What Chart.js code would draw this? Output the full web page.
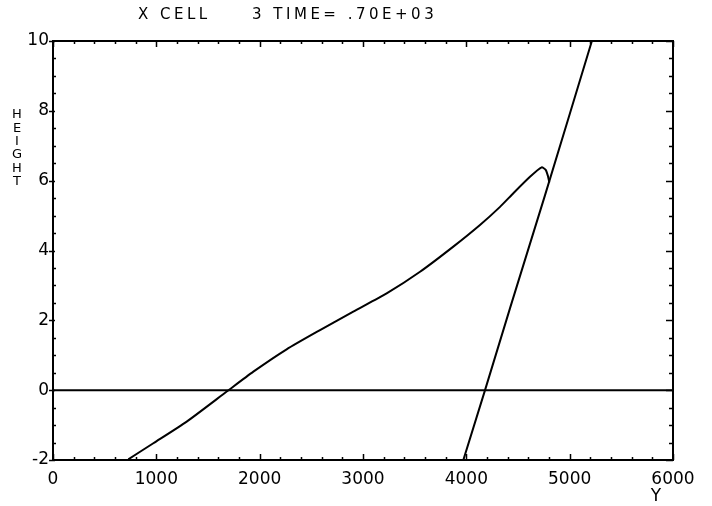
<!DOCTYPE html>
<html>
<head>
<meta charset="utf-8">
<script src="https://cdn.jsdelivr.net/npm/chart.js@4.4.0/dist/chart.umd.min.js"></script>
<style>
  html, body { margin: 0; padding: 0; background: #fff; }
  #contenedor { width: 712px; height: 506px; }
</style>
</head>
<body>
<div id="contenedor"><canvas id="grafico"></canvas></div>
<script>
// superficie libre (Y, HEIGHT)
const curvaY = [729, 971, 1294, 1681, 1939, 2261, 2584, 2906, 3229, 3552, 3874, 4132, 4326, 4455, 4616, 4729, 4768, 4790, 4803];
const curvaH = [-1.98, -1.52, -0.90, -0.04, 0.53, 1.17, 1.72, 2.25, 2.77, 3.39, 4.11, 4.73, 5.25, 5.64, 6.11, 6.38, 6.31, 6.13, 5.95];
// frente empinado
const frenteY = [3971, 4181, 4423, 4761, 5003, 5215];
const frenteH = [-2, 0, 2.35, 5.58, 7.93, 10];
// linea de cero
const baseY = [0, 6000];
const baseH = [0, 0];

const tituloTexto = 'X CELL     3 TIME= .70E+03';
const etiquetaEjeY = ['H', 'E', 'I', 'G', 'H', 'T'];
const etiquetaEjeX = 'Y';

function puntos(xs, ys) {
  return xs.map((v, i) => ({x: v, y: ys[i]}));
}

// marco y marcas hacia adentro (como el plotter original)
const marcoPlugin = {
  id: 'marco',
  afterDatasetsDraw(chart) {
    const {ctx, chartArea: a, scales: {x, y}} = chart;
    ctx.save();
    ctx.strokeStyle = '#000';
    ctx.lineWidth = 2;
    ctx.strokeRect(a.left, a.top, a.right - a.left, a.bottom - a.top);
    ctx.lineWidth = 1.5;
    ctx.beginPath();
    for (let v = 0; v <= 6000; v += 200) {
      const px = Math.round(x.getPixelForValue(v)) + 0.5;
      const largo = (v % 1000 === 0) ? 6 : 3;
      ctx.moveTo(px, a.bottom); ctx.lineTo(px, a.bottom - largo);
      ctx.moveTo(px, a.top); ctx.lineTo(px, a.top + largo);
    }
    for (let v = -2; v <= 10; v += 0.5) {
      const py = Math.round(y.getPixelForValue(v)) + 0.5;
      const mayor = (v % 2 === 0);
      ctx.moveTo(a.left - (mayor ? 4 : 0), py); ctx.lineTo(a.left + (mayor ? 2 : 3), py);
      ctx.moveTo(a.right, py); ctx.lineTo(a.right - (mayor ? 7 : 4), py);
    }
    ctx.stroke();
    ctx.restore();
  },
  afterDraw(chart) {
    const {ctx} = chart;
    ctx.save();
    ctx.fillStyle = '#000';
    ctx.font = '15px "DejaVu Sans"';
    ctx.letterSpacing = '3.5px';
    ctx.textBaseline = 'middle';
    ctx.textAlign = 'left';
    ctx.fillText(tituloTexto, 138, 15);
    ctx.letterSpacing = '0px';
    ctx.font = '13px "DejaVu Sans"';
    ctx.textAlign = 'center';
    etiquetaEjeY.forEach((letra, i) => ctx.fillText(letra, 17, 115 + i * 13.3));
    ctx.font = '17px "DejaVu Sans"';
    ctx.fillText(etiquetaEjeX, 656, 497);
    ctx.restore();
  }
};

const estiloLinea = {
  showLine: true,
  borderColor: '#000',
  backgroundColor: '#000',
  borderWidth: 2,
  pointRadius: 0,
  fill: false
};

const grafico = new Chart(document.getElementById('grafico'), {
  type: 'scatter',
  data: {
    datasets: [
      Object.assign({label: 'cero', data: puntos(baseY, baseH), tension: 0}, estiloLinea),
      Object.assign({label: 'superficie', data: puntos(curvaY, curvaH), tension: 0.2}, estiloLinea),
      Object.assign({label: 'frente', data: puntos(frenteY, frenteH), tension: 0}, estiloLinea)
    ]
  },
  options: {
    responsive: true,
    maintainAspectRatio: false,
    devicePixelRatio: 1,
    animation: false,
    layout: {padding: {top: 41, right: 39, left: 0, bottom: 0}},
    plugins: {legend: {display: false}, tooltip: {enabled: false}, title: {display: false}},
    scales: {
      x: {
        type: 'linear', min: 0, max: 6000,
        grid: {display: false, drawTicks: false},
        border: {display: false},
        ticks: {stepSize: 1000, color: '#000', padding: 9, maxRotation: 0,
                font: {family: 'DejaVu Sans', size: 17},
                callback: v => String(v)},
        afterFit: s => { s.height = 46; }
      },
      y: {
        type: 'linear', min: -2, max: 10,
        grid: {display: false, drawTicks: false},
        border: {display: false},
        ticks: {stepSize: 2, color: '#000', padding: 4,
                font: {family: 'DejaVu Sans', size: 17},
                callback: v => String(v)},
        afterFit: s => { s.width = 53; }
      }
    }
  },
  plugins: [marcoPlugin]
});
</script>
</body>
</html>
